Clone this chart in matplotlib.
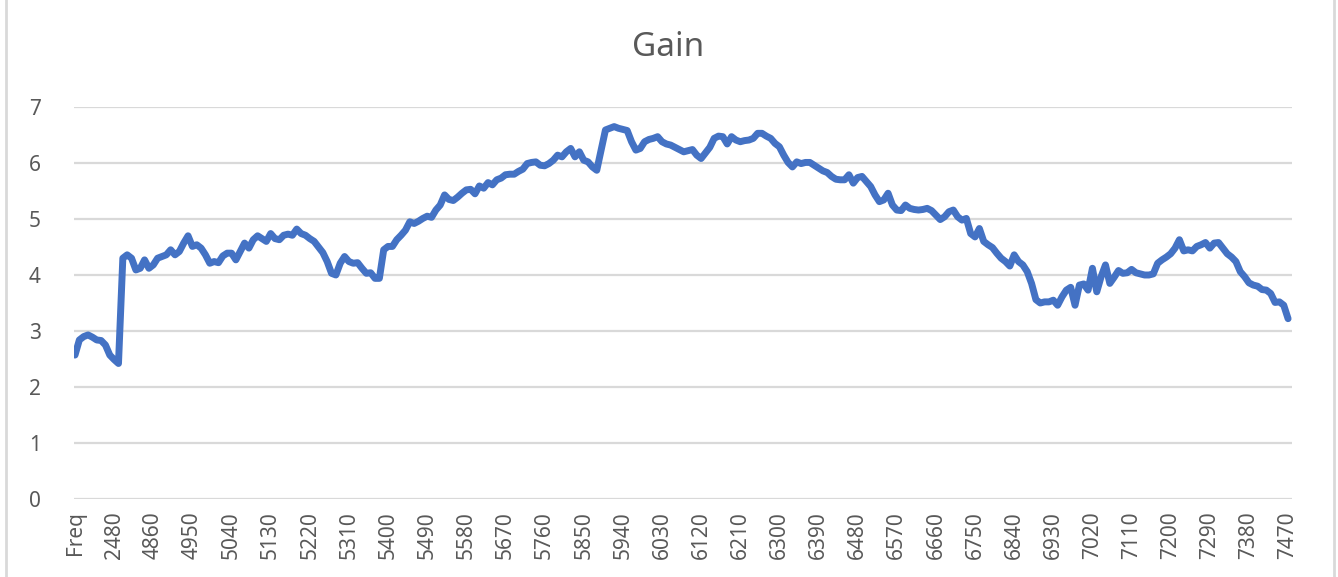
import matplotlib
matplotlib.use("Agg")
import matplotlib.pyplot as plt
from matplotlib.lines import Line2D

title = "Gain"
categories = ["Freq"] + [str(f) for f in range(2400, 2500, 10)] + [str(f) for f in range(4790, 7480, 10)]

gain = [
    2.57, 2.84, 2.90, 2.93, 2.89, 2.84, 2.83, 2.75, 2.57, 2.49,
    2.42, 4.30, 4.36, 4.30, 4.09, 4.12, 4.27, 4.12, 4.18, 4.30,
    4.33, 4.36, 4.45, 4.36, 4.42, 4.57, 4.70, 4.51, 4.54, 4.48,
    4.36, 4.21, 4.24, 4.22, 4.34, 4.39, 4.39, 4.27, 4.42, 4.57,
    4.48, 4.63, 4.70, 4.65, 4.60, 4.74, 4.65, 4.63, 4.71, 4.73,
    4.71, 4.82, 4.74, 4.71, 4.65, 4.60, 4.50, 4.40, 4.24, 4.03,
    4.00, 4.21, 4.33, 4.24, 4.21, 4.22, 4.12, 4.03, 4.04, 3.94,
    3.94, 4.45, 4.51, 4.51, 4.63, 4.71, 4.80, 4.95, 4.92, 4.96,
    5.01, 5.05, 5.03, 5.16, 5.25, 5.43, 5.35, 5.33, 5.39, 5.46,
    5.52, 5.53, 5.45, 5.59, 5.55, 5.65, 5.61, 5.70, 5.73, 5.79,
    5.80, 5.80, 5.85, 5.89, 5.99, 6.01, 6.02, 5.96, 5.95, 5.99,
    6.05, 6.14, 6.11, 6.20, 6.26, 6.11, 6.20, 6.05, 6.02, 5.93,
    5.87, 6.23, 6.59, 6.62, 6.65, 6.62, 6.60, 6.58, 6.38, 6.23,
    6.26, 6.38, 6.42, 6.44, 6.47, 6.38, 6.34, 6.32, 6.28, 6.24,
    6.20, 6.22, 6.24, 6.14, 6.08, 6.18, 6.28, 6.44, 6.48, 6.47,
    6.34, 6.47, 6.41, 6.38, 6.40, 6.41, 6.44, 6.53, 6.53, 6.48,
    6.44, 6.35, 6.29, 6.14, 6.01, 5.93, 6.02, 5.99, 6.01, 6.01,
    5.96, 5.91, 5.86, 5.83, 5.76, 5.71, 5.70, 5.70, 5.79, 5.64,
    5.74, 5.76, 5.67, 5.58, 5.43, 5.31, 5.34, 5.46, 5.25, 5.16,
    5.15, 5.25, 5.19, 5.17, 5.16, 5.17, 5.19, 5.15, 5.07, 4.99,
    5.04, 5.13, 5.16, 5.04, 4.98, 5.01, 4.74, 4.68, 4.83, 4.60,
    4.54, 4.49, 4.39, 4.30, 4.24, 4.16, 4.36, 4.24, 4.18, 4.06,
    3.85, 3.56, 3.50, 3.52, 3.52, 3.55, 3.46, 3.61, 3.73, 3.78,
    3.46, 3.82, 3.84, 3.73, 4.12, 3.70, 3.97, 4.18, 3.85, 3.96,
    4.08, 4.03, 4.04, 4.10, 4.04, 4.02, 4.00, 4.00, 4.02, 4.21,
    4.27, 4.32, 4.38, 4.48, 4.63, 4.43, 4.45, 4.43, 4.51, 4.54,
    4.58, 4.48, 4.57, 4.58, 4.48, 4.38, 4.32, 4.24, 4.06, 3.97,
    3.86, 3.82, 3.80, 3.74, 3.73, 3.67, 3.51, 3.52, 3.46, 3.22,
]
y_ticks = [0, 1, 2, 3, 4, 5, 6, 7]
label_step = 9

plt.rcParams['font.family'] = ['Noto Sans', 'DejaVu Sans']
text_color = "#595959"
grid_color = "#d9d9d9"
line_color = "#4472C4"

W, H = 1338, 577
fig = plt.figure(figsize=(W / 100, H / 100), dpi=100)
fig.patch.set_facecolor("white")

left_px, right_px, bottom_px, top_px = 74, 1292, 499, 107
ax = fig.add_axes([left_px / W, 1 - bottom_px / H, (right_px - left_px) / W, (bottom_px - top_px) / H])

x = list(range(len(gain)))
ax.plot(x, gain, color=line_color, linewidth=5.0, solid_joinstyle="round", solid_capstyle="round", zorder=3)

ax.set_ylim(0, 7)
ax.set_xlim(-0.23, len(gain) - 1 + 0.9)
ax.set_yticks(y_ticks)
ax.set_yticklabels([str(v) for v in y_ticks], fontsize=15, color=text_color)
ax.yaxis.grid(True, color=grid_color, linewidth=1.6)
ax.set_axisbelow(True)

ticks = list(range(0, len(categories), label_step))
ax.set_xticks(ticks)
ax.set_xticklabels([categories[t] for t in ticks], rotation=90, fontsize=15, color=text_color)
ax.tick_params(axis="x", length=0, pad=9)
ax.tick_params(axis="y", length=0, pad=24)
for s in ax.spines.values():
    s.set_visible(False)

fig.text(668 / W, 1 - 48 / H, title, ha="center", va="center", fontsize=24, color=text_color)

for xp in (6, 1334):
    fig.add_artist(Line2D([xp / W, xp / W], [0, 1], transform=fig.transFigure, color=grid_color, linewidth=2))

fig.savefig("out.png", dpi=100, facecolor="white")
